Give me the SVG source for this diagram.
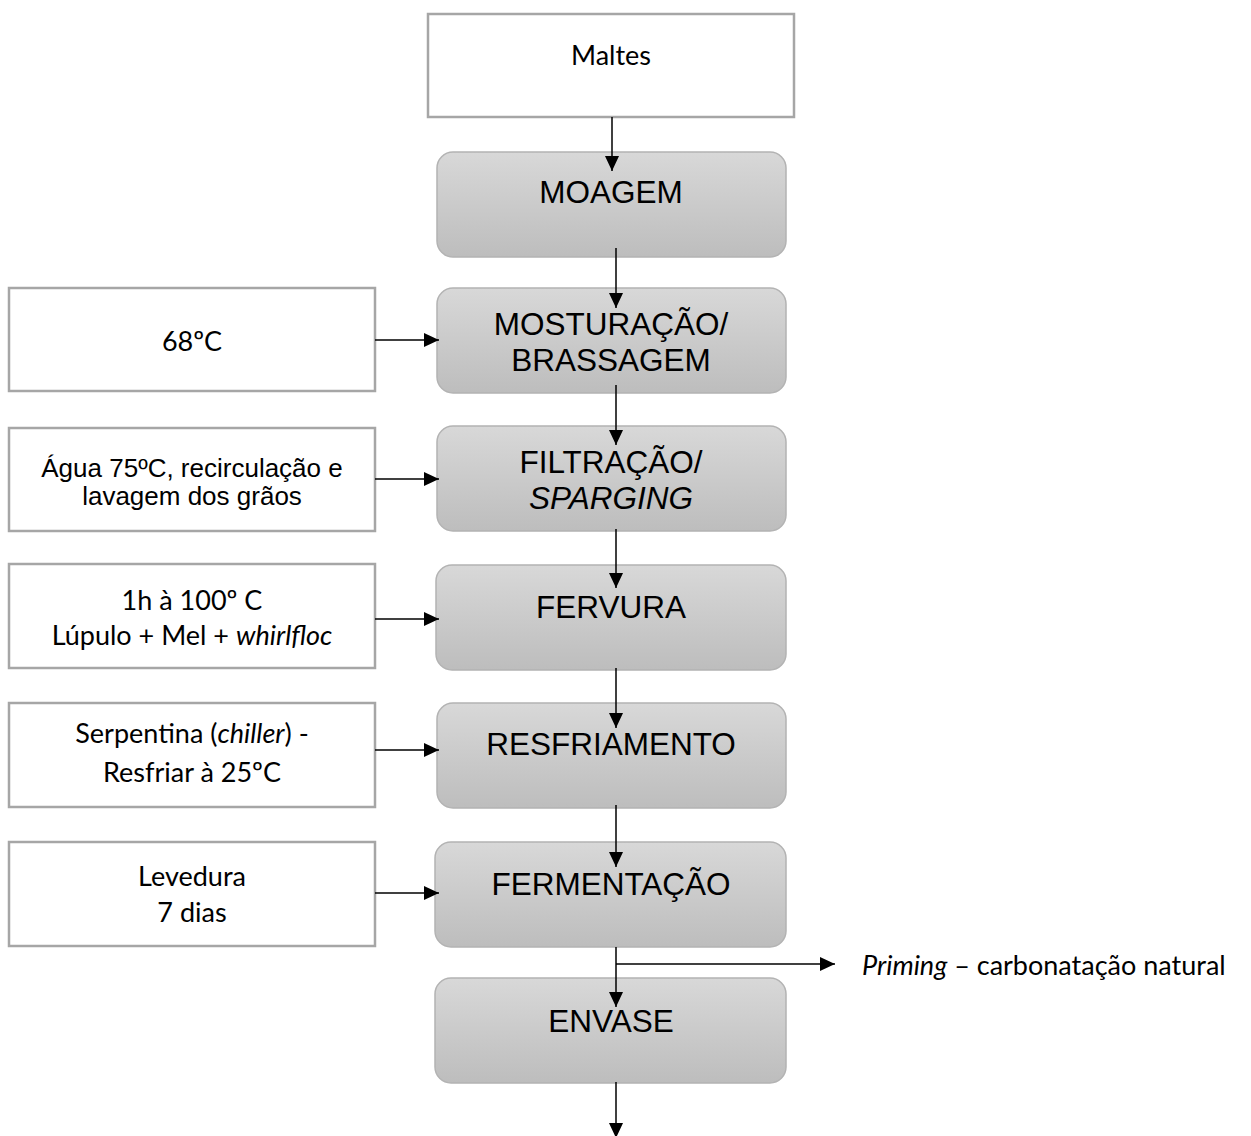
<svg xmlns="http://www.w3.org/2000/svg" width="1251" height="1136" viewBox="0 0 1251 1136">
<defs>
<linearGradient id="g" x1="0" y1="0" x2="0" y2="1">
<stop offset="0" stop-color="#d8d8d8"/>
<stop offset="1" stop-color="#bdbdbd"/>
</linearGradient>
<marker id="ah" markerUnits="userSpaceOnUse" markerWidth="16" markerHeight="15" refX="15" refY="7" orient="auto">
<path d="M0,0 L15,7 L0,14 z" fill="#000"/>
</marker>
<style>
.proc{fill:url(#g);stroke:#b3b3b3;stroke-width:1.5}
.box{fill:#fff;stroke:#a6a6a6;stroke-width:2.5}
.pt{font-family:"Liberation Sans",Arial,sans-serif;font-size:31.5px;fill:#000;text-anchor:middle}
.at{font-family:"Liberation Sans",Arial,sans-serif;font-size:26px;fill:#000;text-anchor:middle}
.ct{font-family:Lato,"Open Sans",sans-serif;font-size:27px;fill:#000;text-anchor:middle}
.cn{stroke:#000;stroke-width:1.5;fill:none}
</style>
</defs>
<rect width="1251" height="1136" fill="#fff"/>
<g id="maltes">
<rect class="box" x="428" y="14" width="366" height="103"/>
<text class="ct" x="611" y="65">Maltes</text>
</g>
<g id="moagem">
<rect class="proc" x="437" y="152" width="349" height="105" rx="16"/>
<text class="pt" x="611" y="203">MOAGEM</text>
</g>
<g id="mosturacao">
<rect class="proc" x="437" y="288" width="349" height="105" rx="16"/>
<text class="pt" x="611" y="335">MOSTURAÇÃO/</text>
<text class="pt" x="611" y="371">BRASSAGEM</text>
</g>
<g id="filtracao">
<rect class="proc" x="437" y="426" width="349" height="105" rx="16"/>
<text class="pt" x="611" y="473">FILTRAÇÃO/</text>
<text class="pt" x="611" y="509" font-style="italic">SPARGING</text>
</g>
<g id="fervura">
<rect class="proc" x="436" y="565" width="350" height="105" rx="16"/>
<text class="pt" x="611" y="618">FERVURA</text>
</g>
<g id="resfriamento">
<rect class="proc" x="437" y="703" width="349" height="105" rx="16"/>
<text class="pt" x="611" y="755">RESFRIAMENTO</text>
</g>
<g id="fermentacao">
<rect class="proc" x="435" y="842" width="351" height="105" rx="16"/>
<text class="pt" x="611" y="895">FERMENTAÇÃO</text>
</g>
<g id="envase">
<rect class="proc" x="435" y="978" width="351" height="105" rx="16"/>
<text class="pt" x="611" y="1032">ENVASE</text>
</g>
<g id="temp68">
<rect class="box" x="9" y="288" width="366" height="103"/>
<text class="ct" x="192" y="351">68ºC</text>
</g>
<g id="agua">
<rect class="box" x="9" y="428" width="366" height="103"/>
<text class="at" x="192" y="477">Água 75ºC, recirculação e</text>
<text class="at" x="192" y="505">lavagem dos grãos</text>
</g>
<g id="fervura-info">
<rect class="box" x="9" y="564" width="366" height="104"/>
<text class="ct" x="192" y="610">1h à 100º C</text>
<text class="ct" x="192" y="645">Lúpulo + Mel + <tspan font-style="italic">whirlfloc</tspan></text>
</g>
<g id="serpentina">
<rect class="box" x="9" y="703" width="366" height="104"/>
<text class="ct" x="192" y="743">Serpentina (<tspan font-style="italic">chiller</tspan>) -</text>
<text class="ct" x="192" y="782">Resfriar à 25ºC</text>
</g>
<g id="levedura">
<rect class="box" x="9" y="842" width="366" height="104"/>
<text class="ct" x="192" y="886">Levedura</text>
<text class="ct" x="192" y="922">7 dias</text>
</g>
<g id="priming">
<text font-family="Lato, 'Open Sans', sans-serif" font-size="27" x="862" y="975"><tspan font-style="italic">Priming</tspan> – carbonatação natural</text>
</g>
<g id="connectors">
<line class="cn" x1="612" y1="117" x2="612" y2="171" marker-end="url(#ah)"/>
<line class="cn" x1="616" y1="248" x2="616" y2="308" marker-end="url(#ah)"/>
<line class="cn" x1="616" y1="385" x2="616" y2="445" marker-end="url(#ah)"/>
<line class="cn" x1="616" y1="529" x2="616" y2="588" marker-end="url(#ah)"/>
<line class="cn" x1="616" y1="668" x2="616" y2="728" marker-end="url(#ah)"/>
<line class="cn" x1="616" y1="805" x2="616" y2="867" marker-end="url(#ah)"/>
<line class="cn" x1="616" y1="947" x2="616" y2="1007" marker-end="url(#ah)"/>
<line class="cn" x1="616" y1="964" x2="835" y2="964" marker-end="url(#ah)"/>
<line class="cn" x1="616" y1="1082" x2="616" y2="1138" marker-end="url(#ah)"/>
<line class="cn" x1="375" y1="340" x2="439" y2="340" marker-end="url(#ah)"/>
<line class="cn" x1="375" y1="479" x2="439" y2="479" marker-end="url(#ah)"/>
<line class="cn" x1="375" y1="619" x2="439" y2="619" marker-end="url(#ah)"/>
<line class="cn" x1="375" y1="750" x2="439" y2="750" marker-end="url(#ah)"/>
<line class="cn" x1="375" y1="893" x2="439" y2="893" marker-end="url(#ah)"/>
</g>
</svg>
